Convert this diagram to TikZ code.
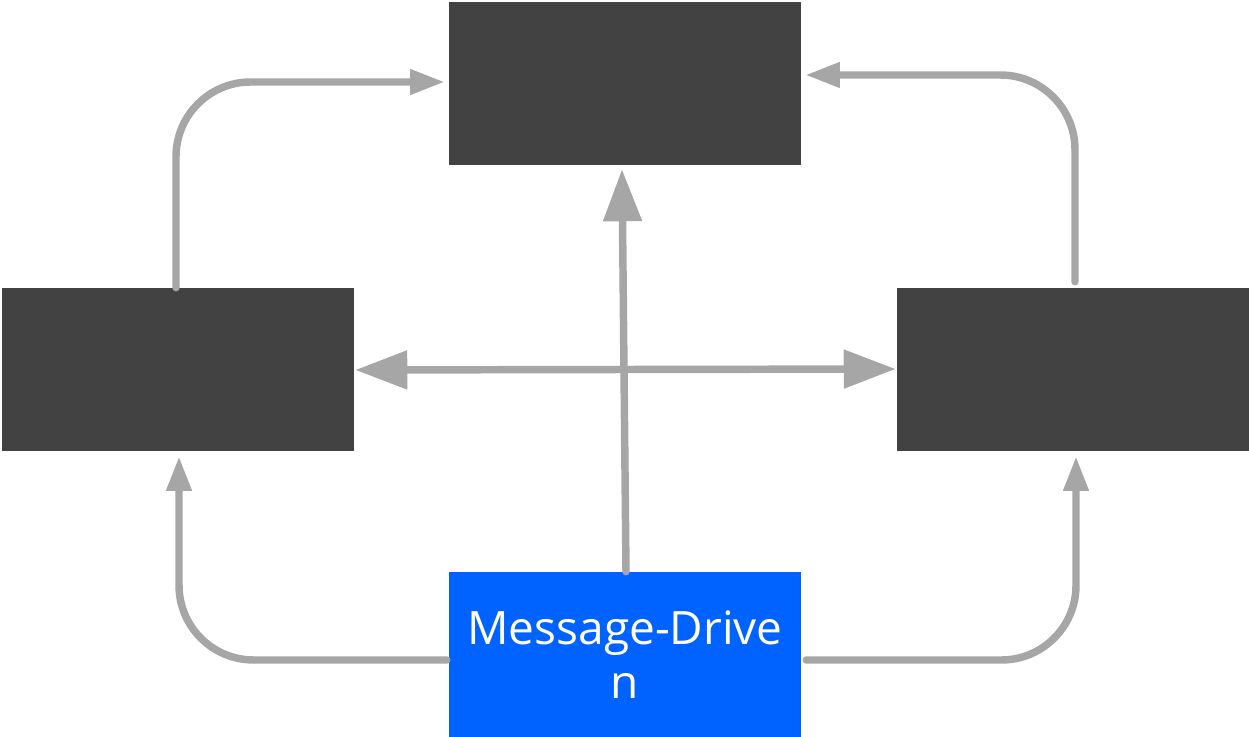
\documentclass[tikz,border=0pt]{standalone}
\usepackage{fontspec}
\setmainfont{Open Sans}
\usetikzlibrary{arrows.meta,calc}
\definecolor{darkbox}{HTML}{424242}
\definecolor{bluebox}{HTML}{0062FF}
\definecolor{arrgray}{HTML}{A6A6A6}
\tikzset{
  darkrect/.style={fill=darkbox, draw=none, minimum width=264pt, minimum height=122.25pt, inner sep=0pt},
  bluerect/.style={fill=bluebox, draw=none, minimum width=264pt, minimum height=123.75pt, inner sep=0pt,
    text=white, align=center, font=\fontsize{34.5}{40}\selectfont},
  conn/.style={draw=arrgray, line width=5.6pt, line cap=round},
  smalltip/.style={-{Triangle[length=26pt,width=18pt]}},
  bigtip/.style={-{Triangle[length=39pt,width=28pt]}},
  bigboth/.style={{Triangle[length=39pt,width=28pt]}-{Triangle[length=39pt,width=28pt]}}
}
\begin{document}
\begin{tikzpicture}[x=0.75pt,y=-0.75pt]
\useasboundingbox (0,0) rectangle (1249,737);
\node[darkrect] (top) at (625,83.5) {};
\node[darkrect] (left) at (178,369.5) {};
\node[darkrect] (right) at (1073,369.5) {};
\node[bluerect] (bottom) at (625,654.5) {Message-Drive\\n};
% top-left curve
\draw[conn, smalltip, rounded corners=56pt] ($(left.north)+(-2,0)$) |- ($(top.west)+(-4,-1.5)$);
% top-right curve
\draw[conn, smalltip, rounded corners=56pt] ($(right.north)+(2,-6)$) |- ($(top.east)+(4,-8.5)$);
% center vertical
\draw[conn, bigtip] ($(bottom.north)+(1,0)$) -- ($(top.south)+(-3,4)$);
% horizontal double
\draw[conn, bigboth] ($(left.east)+(1,0.5)$) -- ($(right.west)+(-1,-0.5)$);
% bottom-left curve
\draw[conn, smalltip, rounded corners=56pt] ($(bottom.west)+(-2,5.5)$) -| ($(left.south)+(1,5)$);
% bottom-right curve
\draw[conn, smalltip, rounded corners=56pt] ($(bottom.east)+(5,5.5)$) -| ($(right.south)+(3,5)$);
\end{tikzpicture}
\end{document}
